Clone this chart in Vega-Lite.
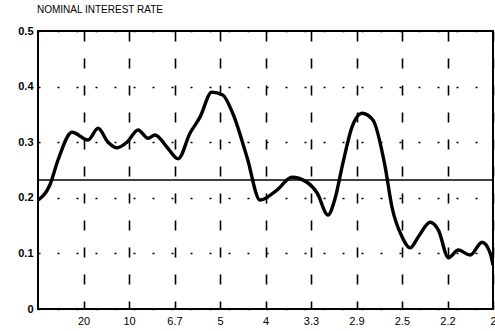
{
  "$schema": "https://vega.github.io/schema/vega-lite/v6.json",
  "autosize": "none",
  "width": 455,
  "height": 278,
  "padding": {"left": 38, "top": 31, "right": 2, "bottom": 22},
  "background": "white",
  "config": {
    "view": {"stroke": "black", "strokeWidth": 2},
    "font": "Liberation Sans"
  },
  "title": {
    "text": "NOMINAL INTEREST RATE",
    "anchor": "start",
    "frame": "group",
    "fontSize": 10,
    "fontWeight": "normal",
    "font": "Liberation Sans",
    "color": "black",
    "offset": 10,
    "dx": -1
  },
  "layer": [
    {
      "data": {"values": [
        {"f": 0, "v": 0.196},
        {"f": 0.013, "v": 0.223},
        {"f": 0.022, "v": 0.268},
        {"f": 0.0374, "v": 0.318},
        {"f": 0.055, "v": 0.304},
        {"f": 0.066, "v": 0.325},
        {"f": 0.077, "v": 0.3},
        {"f": 0.0868, "v": 0.29},
        {"f": 0.0978, "v": 0.3},
        {"f": 0.11, "v": 0.322},
        {"f": 0.121, "v": 0.307},
        {"f": 0.1286, "v": 0.313},
        {"f": 0.1418, "v": 0.291},
        {"f": 0.154, "v": 0.27},
        {"f": 0.167, "v": 0.316},
        {"f": 0.178, "v": 0.345},
        {"f": 0.191, "v": 0.39},
        {"f": 0.203, "v": 0.385},
        {"f": 0.214, "v": 0.352},
        {"f": 0.2297, "v": 0.273},
        {"f": 0.244, "v": 0.196},
        {"f": 0.2626, "v": 0.214},
        {"f": 0.279, "v": 0.237},
        {"f": 0.2956, "v": 0.228},
        {"f": 0.3066, "v": 0.209},
        {"f": 0.3187, "v": 0.169},
        {"f": 0.326, "v": 0.196},
        {"f": 0.335, "v": 0.262},
        {"f": 0.345, "v": 0.327},
        {"f": 0.356, "v": 0.352},
        {"f": 0.368, "v": 0.34},
        {"f": 0.381, "v": 0.26},
        {"f": 0.389, "v": 0.183},
        {"f": 0.4, "v": 0.13},
        {"f": 0.409, "v": 0.11},
        {"f": 0.418, "v": 0.13},
        {"f": 0.431, "v": 0.156},
        {"f": 0.44, "v": 0.142},
        {"f": 0.451, "v": 0.092},
        {"f": 0.462, "v": 0.106},
        {"f": 0.475, "v": 0.097},
        {"f": 0.488, "v": 0.12},
        {"f": 0.497, "v": 0.1},
        {"f": 0.5, "v": 0.079}
      ]},
      "mark": {"type": "line", "interpolate": "monotone", "color": "black", "strokeWidth": 3.4, "clip": true},
      "encoding": {
        "x": {
          "field": "f", "type": "quantitative",
          "scale": {"domain": [0, 0.5], "nice": false, "zero": false},
          "axis": {
            "title": null,
            "values": [0.05, 0.1, 0.15, 0.2, 0.25, 0.3, 0.35, 0.4, 0.45, 0.5],
            "labelExpr": "format(1/datum.value, '.2~g')",
            "grid": true,
            "gridColor": "black",
            "gridWidth": 1.6,
            "gridDash": [10, 17],
            "gridOpacity": 1,
            "ticks": false,
            "domain": false,
            "labelPadding": 6,
            "labelFontSize": 11,
            "labelColor": "black",
            "labelFont": "Liberation Sans",
            "labelBound": false,
            "labelOverlap": false,
            "labelFlush": false
          }
        },
        "y": {
          "field": "v", "type": "quantitative",
          "scale": {"domain": [0, 0.5], "nice": false},
          "axis": {
            "title": null,
            "values": [0, 0.1, 0.2, 0.3, 0.4, 0.5],
            "format": "~g",
            "grid": true,
            "gridColor": "black",
            "gridWidth": 1.6,
            "gridDash": [2, 17],
            "gridOpacity": 1,
            "ticks": false,
            "domain": false,
            "labelPadding": 5,
            "labelFontSize": 11,
            "labelFontWeight": "bold",
            "labelColor": "black",
            "labelFont": "Liberation Sans",
            "labelFlush": false,
            "labelOverlap": false
          }
        }
      }
    },
    {
      "data": {"values": [{"level": 0.232}]},
      "mark": {"type": "rule", "color": "black", "strokeWidth": 1.3},
      "encoding": {
        "y": {"field": "level", "type": "quantitative"}
      }
    }
  ]
}
